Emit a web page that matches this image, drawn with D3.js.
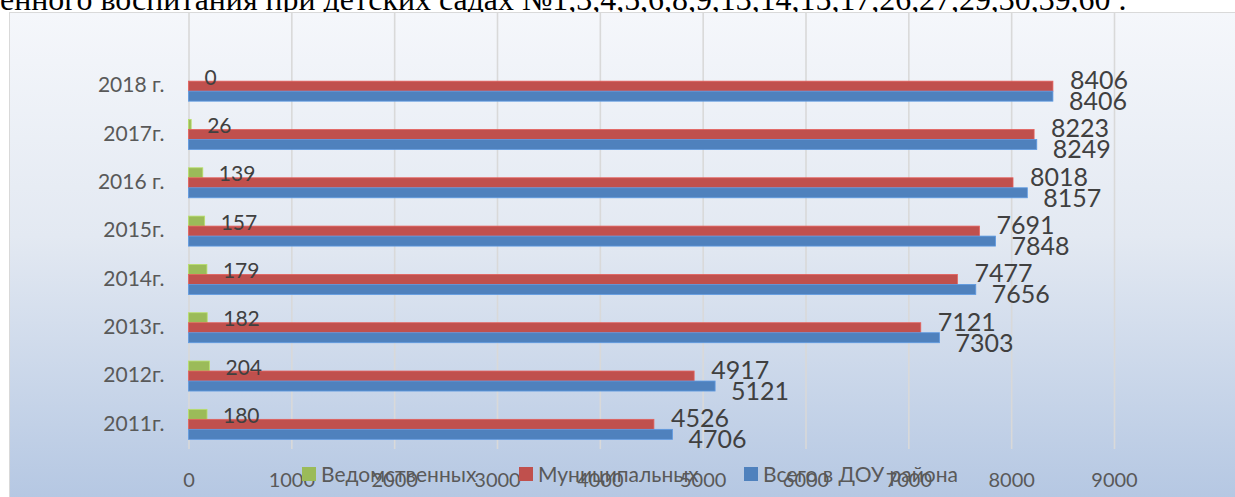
<!DOCTYPE html>
<html><head><meta charset="utf-8">
<script src="https://cdn.jsdelivr.net/npm/d3@7"></script>
<style>html,body{margin:0;padding:0;background:#fff;overflow:hidden}</style>
</head><body>
<svg id="c" width="1235" height="497"></svg>
<script>
// ---- data ----
const categories = ["2018 г.", "2017г.", "2016 г.", "2015г.", "2014г.", "2013г.", "2012г.", "2011г."];
const seriesNames = ["Ведомственных", "Муниципальных", "Всего в ДОУ района"];
const vedomstvennyh = [0, 26, 139, 157, 179, 182, 204, 180];
const municipalnyh = [8406, 8223, 8018, 7691, 7477, 7121, 4917, 4526];
const vsegoDOU = [8406, 8249, 8157, 7848, 7656, 7303, 5121, 4706];
const xTickValues = [0, 1000, 2000, 3000, 4000, 5000, 6000, 7000, 8000, 9000];
const headingText = "енного воспитания при детских садах №1,3,4,5,6,8,9,13,14,15,17,26,27,29,30,39,60 .";

const seriesValues = [vedomstvennyh, municipalnyh, vsegoDOU];
const colors = ["#9bbb59", "#c0504d", "#4f81bd"];
const labelStyle = [
  {dx: 16, dy: 1, size: 21},
  {dx: 17, dy: -6, size: 25},
  {dx: 16, dy: 5, size: 25}
];

const svg = d3.select("#c");
const W = 1235, H = 497;

// heading text (cut off at top, from the document)
const head = svg.append("text")
  .attr("x", 0).attr("y", 10)
  .attr("font-family", "'Liberation Serif','Times New Roman',serif")
  .attr("font-size", 30).attr("fill", "#000")
  .text(headingText);
const natural = head.node().getComputedTextLength();
head.attr("font-size", 30 * 1127 / natural);

// chart background
const defs = svg.append("defs");
const g = defs.append("linearGradient").attr("id", "bg").attr("x1", 0).attr("y1", 0).attr("x2", 0).attr("y2", 1);
g.append("stop").attr("offset", "0%").attr("stop-color", "#f5f7fb");
g.append("stop").attr("offset", "45%").attr("stop-color", "#e3e9f2");
g.append("stop").attr("offset", "100%").attr("stop-color", "#b3c6e2");
svg.append("rect").attr("x", 9.5).attr("y", 12.5).attr("width", W).attr("height", H)
  .attr("fill", "url(#bg)").attr("stroke", "#d9d9d9").attr("stroke-width", 1);

// scales
const plotTop = 13, plotBottom = 449;
const x = d3.scaleLinear().domain([0, 9000]).range([188.5, 1114]);
const y = d3.scaleBand().domain(categories).range([62, 448.5]).paddingInner(0.379).paddingOuter(0.1895);
const ySub = d3.scaleBand().domain(d3.range(seriesNames.length)).range([0, y.bandwidth()]);

// gridlines + x tick labels
const xAxis = svg.append("g").attr("transform", `translate(0,${plotBottom})`)
  .call(d3.axisBottom(x).tickValues(xTickValues).tickSize(-(plotBottom - plotTop)).tickPadding(24).tickFormat(d3.format("d")));
xAxis.select(".domain").remove();
xAxis.selectAll(".tick line").attr("stroke", "#d9d9d9").attr("stroke-width", 1.6);
xAxis.selectAll(".tick text").attr("font-family", "Lato, 'Open Sans', sans-serif").attr("font-size", 20).attr("fill", "#595959");

// category labels
const yAxis = svg.append("g").attr("transform", `translate(${x(0)},0)`)
  .call(d3.axisLeft(y).tickSize(0).tickPadding(24));
yAxis.select(".domain").remove();
yAxis.selectAll(".tick text").attr("font-family", "Lato, 'Open Sans', sans-serif").attr("font-size", 21).attr("fill", "#595959").attr("dy", "0.3em");

// bars
seriesValues.forEach((vals, si) => {
  svg.append("g").selectAll("rect").data(vals).join("rect")
    .attr("x", x(0))
    .attr("y", (d, i) => y(categories[i]) + ySub(si))
    .attr("width", d => x(d) - x(0))
    .attr("height", ySub.bandwidth())
    .attr("fill", colors[si])
    .attr("stroke", d3.color(colors[si]).brighter(0.5))
    .attr("stroke-width", 0.8);
});

// data labels
seriesValues.forEach((vals, si) => {
  const st = labelStyle[si];
  svg.append("g").selectAll("text").data(vals).join("text")
    .attr("x", d => x(d) + st.dx)
    .attr("y", (d, i) => y(categories[i]) + ySub(si) + ySub.bandwidth() / 2 + st.dy)
    .attr("dy", "0.36em")
    .attr("font-family", "Lato, 'Open Sans', sans-serif")
    .attr("font-size", st.size)
    .attr("fill", "#404040")
    .text(d => d);
});

// legend
const legendX = [302, 519, 744];
const leg = svg.append("g");
seriesNames.forEach((name, si) => {
  const it = leg.append("g").attr("transform", `translate(${legendX[si]},467)`);
  it.append("rect").attr("width", 14).attr("height", 14).attr("fill", colors[si]);
  it.append("text").attr("x", 19).attr("y", 7).attr("dy", "0.36em")
    .attr("font-family", "Lato, 'Open Sans', sans-serif").attr("font-size", 21)
    .attr("fill", "#595959").text(name);
});
</script>
</body></html>
